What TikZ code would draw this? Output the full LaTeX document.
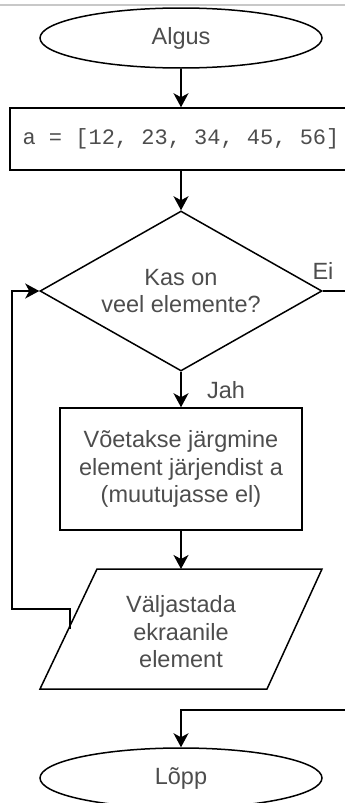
\documentclass[tikz,border=0pt]{standalone}
\usepackage{fontspec}
\setmainfont{Liberation Sans}
\setmonofont{Liberation Mono}
\usetikzlibrary{shapes.geometric,arrows.meta}
\definecolor{txt}{HTML}{4D4D4D}
\definecolor{topline}{HTML}{C8C8C8}
\begin{document}
\begin{tikzpicture}[x=1pt,y=-1pt,
  every node/.style={text=txt, font=\fontsize{23.5}{27.5}\selectfont, inner sep=0pt, align=center},
  term/.style={ellipse, draw=black, line width=1.5pt, minimum width=282pt, minimum height=60pt},
  proc/.style={rectangle, draw=black, line width=1.5pt},
  dec/.style={diamond, draw=black, line width=1.5pt, minimum width=282pt, minimum height=160pt, aspect=1.76},
  flow/.style={line width=1.5pt, -{Stealth[length=14pt,width=15pt,inset=4pt]}}
]
\useasboundingbox (0,0) rectangle (345,803);
\clip (0,0) rectangle (345,803);
\draw[topline, line width=1.5pt] (0,5) -- (345,5);
\node[term] (start) at (181,38) {Algus};
\node[proc, minimum width=342pt, minimum height=62pt, font=\ttfamily\fontsize{22}{26}\selectfont] (init) at (181,139) {a = [12, 23, 34, 45, 56]};
\node[dec] (cond) at (181,291) {Kas on\\veel elemente?};
\node[proc, minimum width=242pt, minimum height=122pt] (take) at (181,469) {Võetakse järgmine\\element järjendist a\\(muutujasse el)};
\draw[line width=1.5pt] (97,569) -- (322,569) -- (267,689) -- (40,689) -- cycle;
\node (outp) at (181,632) {Väljastada\\ekraanile\\element};
\coordinate (outpN) at (181,569);
\coordinate (outpW) at (70,629);
\node[term] (end) at (181,778) {Lõpp};
\coordinate (exitR) at (360,291);
\coordinate (exitB) at (360,710);
\draw[flow] (start) -- (init);
\draw[flow] (init) -- (cond);
\draw[flow] (cond) -- (take);
\node (jah) at (226,390) {Jah};
\draw[flow] (take) -- (outpN);
\draw[flow] (outpW) -- (70,609) -- (12,609) |- (cond.west);
\draw[flow] (cond.east) -- (exitR) -- (exitB) -| (end.north);
\node (ei) at (323,271) {Ei};
\end{tikzpicture}
\end{document}
